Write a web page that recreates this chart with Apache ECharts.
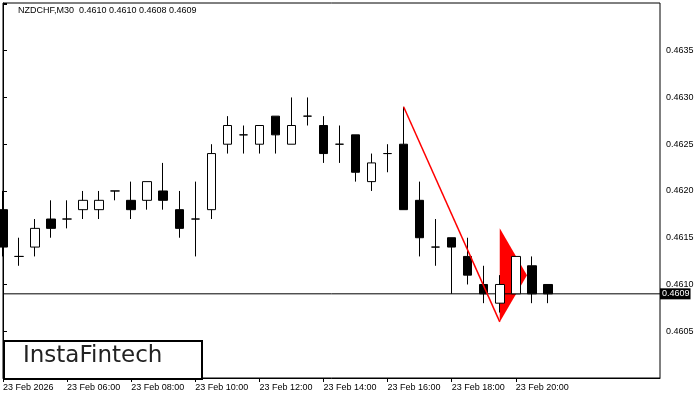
<!DOCTYPE html>
<html>
<head>
<meta charset="utf-8">
<script src="https://cdn.jsdelivr.net/npm/echarts@6/dist/echarts.min.js"></script>
<style>
  html, body { margin: 0; padding: 0; background: #fff; }
  #chart { width: 700px; height: 400px; }
</style>
</head>
<body>
<div id="chart"></div>
<script>
// 30-minute bars, 23 Feb 2026 (last 7 slots are empty space on the right)
const categories = [
  '04:00', '04:30', '05:00', '05:30', '06:00', '06:30', '07:00', '07:30',
  '08:00', '08:30', '09:00', '09:30', '10:00', '10:30', '11:00', '11:30',
  '12:00', '12:30', '13:00', '13:30', '14:00', '14:30', '15:00', '15:30',
  '16:00', '16:30', '17:00', '17:30', '18:00', '18:30', '19:00', '19:30',
  '20:00', '20:30', '21:00', '21:30', '22:00', '22:30', '23:00', '23:30',
  '00:00', '00:30'
];
const opens = [
  0.4618, 0.4613, 0.4614, 0.4617, 0.4617, 0.4618, 0.4618, 0.4620, 0.4619, 0.4619,
  0.4620, 0.4618, 0.4617, 0.4618, 0.4625, 0.4626, 0.4625, 0.4628, 0.4625, 0.4628,
  0.4627, 0.4625, 0.4626, 0.4621, 0.4624, 0.4625, 0.4619, 0.4614, 0.4615, 0.4613,
  0.4610, 0.4608, 0.4609, 0.4612, 0.4610
];
const closes = [
  0.4614, 0.4613, 0.4616, 0.4616, 0.4617, 0.4619, 0.4619, 0.4620, 0.4618, 0.4621,
  0.4619, 0.4616, 0.4617, 0.4624, 0.4627, 0.4626, 0.4627, 0.4626, 0.4627, 0.4628,
  0.4624, 0.4625, 0.4622, 0.4623, 0.4624, 0.4618, 0.4615, 0.4614, 0.4614, 0.4611,
  0.4609, 0.4610, 0.4613, 0.4609, 0.4609
];
const lows = [
  0.4613, 0.4612, 0.4613, 0.4615, 0.4616, 0.4617, 0.4617, 0.4619, 0.4617, 0.4618,
  0.4618, 0.4615, 0.4613, 0.4617, 0.4624, 0.4624, 0.4624, 0.4624, 0.4625, 0.4627,
  0.4623, 0.4623, 0.4621, 0.4620, 0.4622, 0.4618, 0.4613, 0.4612, 0.4609, 0.4610,
  0.4608, 0.4607, 0.4609, 0.4608, 0.4608
];
const highs = [
  0.4620, 0.4615, 0.4617, 0.4619, 0.4619, 0.4620, 0.4620, 0.4620, 0.4621, 0.4621,
  0.4623, 0.4620, 0.4621, 0.4625, 0.4628, 0.4627, 0.4627, 0.4628, 0.4630, 0.4630,
  0.4628, 0.4627, 0.4626, 0.4624, 0.4625, 0.4629, 0.4621, 0.4617, 0.4615, 0.4615,
  0.4612, 0.4611, 0.4613, 0.4613, 0.4610
];
const xLabels = [
  '23 Feb 2026', '23 Feb 06:00', '23 Feb 08:00', '23 Feb 10:00', '23 Feb 12:00',
  '23 Feb 14:00', '23 Feb 16:00', '23 Feb 18:00', '23 Feb 20:00'
];
const labelStep = 4;
const yLabelMin = 0.4605;
const yLabelMax = 0.4635;

// bearish pennant: pole and flag (bar index, price)
const poleX = [25, 31];
const poleY = [0.4629, 0.4606];
const flagX = [31, 31, 32.7];
const flagY = [0.4616, 0.4606, 0.4611];

const currentPrice = 0.4609;

const last = opens.length - 1;
const title = 'NZDCHF,M30  ' + [opens[last], highs[last], lows[last], closes[last]]
  .map(v => v.toFixed(4)).join(' ');

const candles = opens.map((o, i) => [o, closes[i], lows[i], highs[i]]);
const lastSlot = categories.length - 1;

const chart = echarts.init(document.getElementById('chart'));
const font = 'Liberation Sans, Arial, sans-serif';

const showAt = (i) => i % labelStep === 0 && i / labelStep < xLabels.length;

chart.setOption({
  animation: false,
  backgroundColor: '#fff',
  grid: {
    left: 3, right: 40, top: 3, bottom: 22,
    show: true, borderColor: '#000', borderWidth: 1,
    outerBoundsMode: 'none'
  },
  xAxis: [
    {
      type: 'category',
      data: categories,
      boundaryGap: false,
      axisLine: { show: true, lineStyle: { color: '#000', width: 1 } },
      axisTick: { show: true, interval: (i) => showAt(i), length: 4, lineStyle: { color: '#000' } },
      axisLabel: {
        interval: (i) => showAt(i),
        formatter: (v, i) => showAt(i) ? xLabels[i / labelStep] : '',
        align: 'left',
        margin: 5,
        color: '#000',
        fontSize: 9,
        fontFamily: font
      },
      splitLine: { show: false }
    },
    {
      type: 'value',
      min: 0,
      max: lastSlot,
      show: false
    }
  ],
  yAxis: {
    type: 'value',
    position: 'right',
    min: 0.46,
    max: 0.46401,
    interval: 0.0005,
    axisLine: { show: true, lineStyle: { color: '#000' } },
    axisTick: { show: true, length: 4, lineStyle: { color: '#000' } },
    axisLabel: {
      margin: 6,
      color: '#000',
      fontSize: 9,
      fontFamily: font,
      formatter: (v) => (v >= yLabelMin - 1e-6 && v <= yLabelMax + 1e-6) ? v.toFixed(4) : ''
    },
    splitLine: { show: false }
  },
  series: [
    {
      type: 'custom',
      xAxisIndex: 1,
      z: 1,
      data: flagX.map((x, i) => [x, flagY[i]]),
      encode: { x: 0, y: 1 },
      renderItem: (params, api) => {
        if (params.dataIndex !== 0) return null;
        return {
          type: 'polygon',
          shape: { points: flagX.map((x, i) => api.coord([x, flagY[i]])) },
          style: { fill: '#ff0000' }
        };
      }
    },
    {
      // current price line with its tag on the price scale
      type: 'line',
      xAxisIndex: 1,
      z: 2,
      data: [[0, currentPrice], [lastSlot, currentPrice]],
      symbol: 'none',
      silent: true,
      lineStyle: { color: '#000', width: 1 },
      endLabel: {
        show: true,
        distance: 0,
        formatter: () => currentPrice.toFixed(4),
        color: '#fff',
        backgroundColor: '#000',
        padding: [1, 1, 1, 2],
        fontSize: 9,
        fontFamily: font
      }
    },
    {
      type: 'candlestick',
      xAxisIndex: 0,
      z: 3,
      barWidth: 9,
      data: candles,
      itemStyle: {
        color: '#fff',
        color0: '#000',
        borderColor: '#000',
        borderColor0: '#000',
        borderColorDoji: '#000',
        borderWidth: 1
      }
    },
    {
      type: 'line',
      xAxisIndex: 1,
      z: 4,
      data: poleX.map((x, i) => [x, poleY[i]]),
      symbol: 'none',
      lineStyle: { color: '#ff0000', width: 1.5 }
    }
  ],
  graphic: [
    {
      type: 'text',
      left: 18,
      top: 6,
      style: { text: title, fill: '#000', font: '9px ' + font }
    },
    {
      type: 'rect',
      left: 3,
      top: 340,
      shape: { width: 198, height: 38 },
      style: { fill: '#fff', stroke: '#000', lineWidth: 2 },
      z: 100
    },
    {
      type: 'text',
      left: 23,
      top: 345,
      style: { text: 'InstaFintech', fill: '#222', font: '500 23px "DejaVu Sans", sans-serif' },
      z: 101
    }
  ]
});
</script>
</body>
</html>
